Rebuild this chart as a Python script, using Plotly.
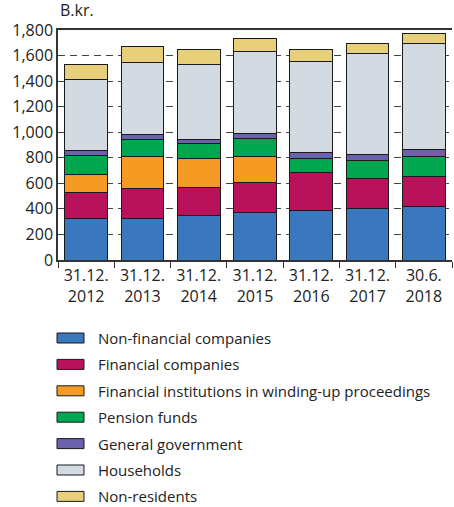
import plotly.graph_objects as go

# data (B.kr.)
dates = ["31.12.<br>2012", "31.12.<br>2013", "31.12.<br>2014", "31.12.<br>2015",
         "31.12.<br>2016", "31.12.<br>2017", "30.6.<br>2018"]
non_financial = [321, 326, 350, 368, 389, 404, 415]
financial = [204, 235, 219, 240, 298, 235, 240]
winding_up = [146, 248, 227, 204, 0, 0, 0]
pension = [149, 136, 112, 138, 106, 139, 157]
government = [36, 39, 37, 37, 47, 49, 55]
households = [559, 564, 587, 647, 710, 791, 830]
non_residents = [117, 122, 112, 96, 94, 79, 74]

series = [
    ("Non-financial companies", non_financial, "#3a77bd"),
    ("Financial companies", financial, "#b8125b"),
    ("Financial institutions in winding-up proceedings", winding_up, "#f59a23"),
    ("Pension funds", pension, "#00a650"),
    ("General government", government, "#6b62ad"),
    ("Households", households, "#d4dae2"),
    ("Non-residents", non_residents, "#e8d07a"),
]

FONT = "Open Sans"
TXT = "#222222"

fig = go.Figure()
for name, vals, col in series:
    fig.add_trace(go.Bar(x=dates, y=vals, name=name, marker_color=col,
                         marker_line=dict(color="#1a1a1a", width=1),
                         showlegend=False))

fig.update_layout(
    barmode="stack", bargap=0.24,
    width=454, height=507,
    margin=dict(l=58, r=2, t=30, b=247),
    plot_bgcolor="white", paper_bgcolor="white",
    font=dict(family=FONT, size=16, color=TXT),
)
fig.update_xaxes(showline=True, linecolor="#333", linewidth=1.5, mirror=True,
                 ticks="outside", tickson="boundaries", ticklen=6, tickcolor="#333",
                 tickfont=dict(size=16), showgrid=False)
fig.update_yaxes(range=[0, 1800], dtick=200, tickformat=",", showline=True,
                 linecolor="#333", linewidth=1.5, ticks="", zeroline=False,
                 showgrid=True, gridcolor="#444", gridwidth=1, griddash="7px,5px",
                 tickfont=dict(size=16))

fig.add_annotation(text="B.kr.", xref="paper", yref="paper", x=0, y=1.03,
                   xanchor="left", yanchor="bottom", showarrow=False,
                   font=dict(size=16, color=TXT))

# hand-drawn legend below the plot
def px_x(p):
    return (p - 58) / 394

def px_y(p):
    return (260 - p) / 230

for i, (name, vals, col) in enumerate(series):
    cy = 338 + i * 26.4
    fig.add_shape(type="rect", xref="paper", yref="paper",
                  x0=px_x(57), x1=px_x(84), y0=px_y(cy - 5), y1=px_y(cy + 5),
                  fillcolor=col, line=dict(color="#1a1a1a", width=1))
    fig.add_annotation(text=name, xref="paper", yref="paper",
                       x=px_x(96), y=px_y(cy), xanchor="left", yanchor="middle",
                       showarrow=False, font=dict(size=15, color=TXT))

fig.write_html("out.html", config={"displayModeBar": False},
               post_script="document.body.style.margin='0';")
